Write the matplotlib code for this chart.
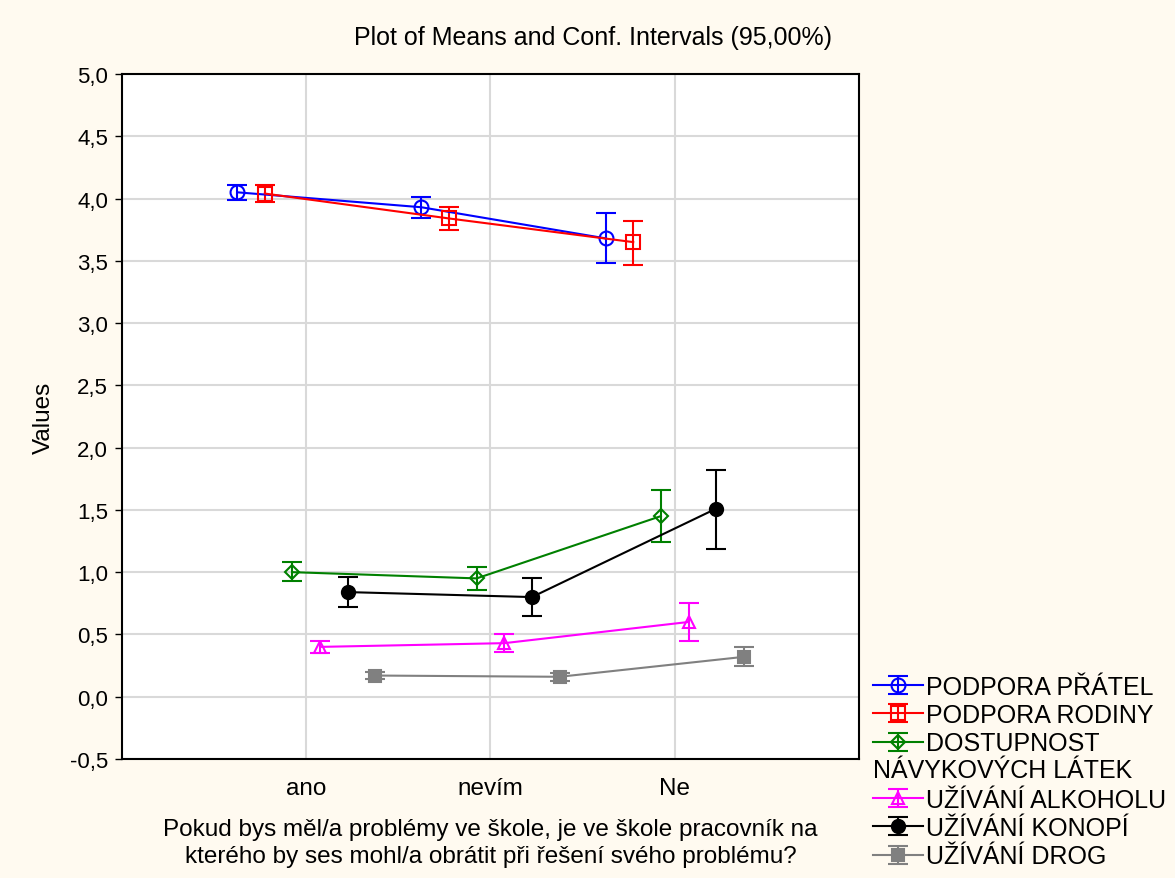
import matplotlib.pyplot as plt
from matplotlib.lines import Line2D
from matplotlib.legend_handler import HandlerErrorbar
import numpy as np

plt.rcParams["font.family"] = ["Liberation Sans", "DejaVu Sans"]

categories = ["ano", "nevím", "Ne"]
series_names = ["PODPORA PŘÁTEL", "PODPORA RODINY", "DOSTUPNOST",
                "UŽÍVÁNÍ ALKOHOLU", "UŽÍVÁNÍ KONOPÍ", "UŽÍVÁNÍ DROG"]

# means, lower and upper 95% CI bounds per series
pratel_mean = [4.05, 3.93, 3.68]
pratel_low = [3.99, 3.84, 3.48]
pratel_high = [4.11, 4.01, 3.88]

rodiny_mean = [4.04, 3.84, 3.65]
rodiny_low = [3.97, 3.75, 3.47]
rodiny_high = [4.11, 3.93, 3.82]

dostupnost_mean = [1.00, 0.95, 1.45]
dostupnost_low = [0.93, 0.86, 1.24]
dostupnost_high = [1.08, 1.04, 1.66]

alkohol_mean = [0.40, 0.43, 0.60]
alkohol_low = [0.35, 0.36, 0.45]
alkohol_high = [0.45, 0.50, 0.75]

konopi_mean = [0.84, 0.80, 1.51]
konopi_low = [0.72, 0.645, 1.19]
konopi_high = [0.96, 0.95, 1.82]

drogy_mean = [0.17, 0.16, 0.32]
drogy_low = [0.145, 0.13, 0.25]
drogy_high = [0.20, 0.19, 0.40]

means = [pratel_mean, rodiny_mean, dostupnost_mean, alkohol_mean, konopi_mean, drogy_mean]
lows = [pratel_low, rodiny_low, dostupnost_low, alkohol_low, konopi_low, drogy_low]
highs = [pratel_high, rodiny_high, dostupnost_high, alkohol_high, konopi_high, drogy_high]

colors = ["#0000ff", "#ff0000", "#008000", "#ff00ff", "#000000", "#808080"]
markers = ["o", "s", "D", "^", "o", "s"]
filled = [False, False, False, False, True, True]
msizes = [10, 9.5, 7, 8.5, 9.5, 8]
offsets = [-0.375, -0.225, -0.075, 0.075, 0.225, 0.375]

fig = plt.figure(figsize=(11.75, 8.79), dpi=100, facecolor="#fffaf0")
ax = fig.add_axes([0.1038, 0.1354, 0.6272, 0.7793])
ax.set_facecolor("white")

x = np.arange(len(categories))
handles = []
for i in range(len(series_names)):
    m = np.array(means[i])
    err = [m - np.array(lows[i]), np.array(highs[i]) - m]
    h = ax.errorbar(x + offsets[i], m, yerr=err, color=colors[i], lw=1.5,
                    marker=markers[i], ms=msizes[i],
                    mfc=colors[i] if filled[i] else "none", mec=colors[i], mew=1.5,
                    capsize=7, capthick=1.5, elinewidth=1.5, zorder=3)
    handles.append(h)

ax.set_xlim(-1, 3)
ax.set_ylim(-0.5, 5.0)
ax.set_xticks(x)
ax.set_xticklabels(categories)
yt = np.arange(-0.5, 5.01, 0.5)
ax.set_yticks(yt)
ax.set_yticklabels([f"{v:.1f}".replace(".", ",") for v in yt])
ax.grid(True, color="#d9d9d9", lw=1.5, zorder=0)
ax.set_axisbelow(True)
ax.tick_params(axis="x", length=0, labelsize=17.5, pad=13)
ax.tick_params(axis="y", length=5, width=1, labelsize=16, direction="out", pad=5)
for s in ax.spines.values():
    s.set_linewidth(1.5)

ax.set_ylabel("Values", fontsize=17.5, labelpad=11)
ax.set_xlabel("Pokud bys měl/a problémy ve škole, je ve škole pracovník na\n"
              "kterého by ses mohl/a obrátit při řešení svého problému?",
              fontsize=17.5, labelpad=14, linespacing=1.25)
fig.text(0.505, 0.957, "Plot of Means and Conf. Intervals (95,00%)",
         ha="center", va="center", fontsize=18)

blank = Line2D([], [], color="none")
leg_handles = handles[:3] + [blank] + handles[3:]
leg_labels = series_names[:3] + [" "] + series_names[3:]
fig.legend(leg_handles, leg_labels, loc="upper left",
           bbox_to_anchor=(0.743, 0.231), frameon=False, fontsize=18,
           handlelength=2.0, handletextpad=0.1, labelspacing=0.17,
           borderaxespad=0, borderpad=0,
           handler_map={type(handles[0]): HandlerErrorbar(xerr_size=0.5, yerr_size=0.36)})
fig.text(0.743, 0.1228, "NÁVYKOVÝCH LÁTEK", ha="left", va="center", fontsize=18)

fig.savefig("out.png", dpi=100, facecolor=fig.get_facecolor())
